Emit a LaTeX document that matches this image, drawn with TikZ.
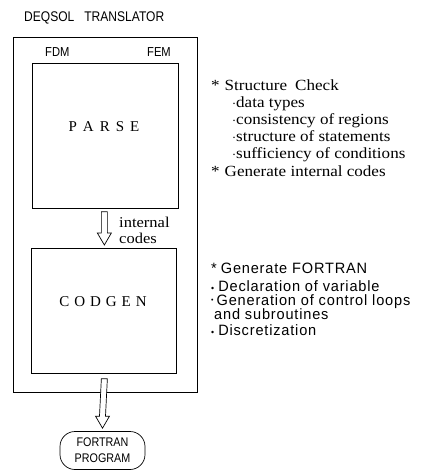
\documentclass[tikz,border=0pt]{standalone}
\usepackage{fontspec}
\setmainfont{Liberation Serif}
\newfontfamily\condsans[FakeStretch=0.86]{Liberation Sans}
\newfontfamily\widesans[FakeStretch=0.97,LetterSpace=5.5]{Liberation Sans}
\newfontfamily\wideserif[FakeStretch=1.1]{Liberation Serif}
\newcommand{\smalldot}{\scalebox{0.6}{\textbullet}}
\usetikzlibrary{calc}
\begin{document}
\begin{tikzpicture}[x=1pt,y=-1pt,
  box/.style={draw, line width=0.7pt, inner sep=0pt, anchor=north west},
  titletext/.style={font=\condsans\fontsize{14}{16}\selectfont, inner sep=0pt, anchor=west},
  sanstext/.style={font=\widesans\fontsize{15}{15}\selectfont, inner sep=0pt, anchor=west, text height=8.5pt, text depth=2.5pt},
  seriftext/.style={font=\wideserif\fontsize{15.5}{15}\selectfont, inner sep=0pt, anchor=west, text height=9pt, text depth=2.5pt},
  labeltext/.style={font=\fontsize{15}{15}\selectfont, inner sep=0pt, anchor=center},
  smallserif/.style={font=\wideserif\fontsize{15}{16}\selectfont, inner sep=0pt, anchor=west, align=left},
  blockarrow/.style={draw, line width=0.7pt, fill=white}]
\useasboundingbox (0,0) rectangle (426,470);
% title
\node[titletext] (title) at (24,18) {DEQSOL\hspace{10pt}TRANSLATOR};
% boxes
\node[box, minimum width=184, minimum height=355] (outer) at (13,37) {};
\node[titletext, font=\condsans\fontsize{13}{15}\selectfont] (fdm) at (45,52) {FDM};
\node[titletext, font=\condsans\fontsize{13}{15}\selectfont] (fem) at (147,52) {FEM};
\node[box, minimum width=146, minimum height=145] (parse) at (32,63) {};
\node[labeltext] (parsel) at (104,127) {P\hspace{6pt}A\hspace{6pt}R\hspace{6pt}S\hspace{6pt}E};
\node[box, minimum width=145, minimum height=125] (codgen) at (31,248) {};
\node[labeltext] (codgenl) at (103,302) {C\hspace{5pt}O\hspace{5pt}D\hspace{5pt}G\hspace{5pt}E\hspace{5pt}N};
% arrow 1
\coordinate (a1s) at ($(parse.south)+(-1,3)$);
\coordinate (a1e) at ($(codgen.north)+(0.5,-3)$);
\draw[blockarrow] ($(a1s)+(-3,0)$) -- ($(a1e)+(-3,-12)$) -- ($(a1e)+(-7,-12)$) -- (a1e)
  -- ($(a1e)+(7,-12)$) -- ($(a1e)+(3,-12)$) -- ($(a1s)+(3,0)$) -- cycle;
\node[smallserif] (ic) at (119,230) {internal\\codes};
% arrow 2
\node[draw, line width=0.7pt, rounded corners=15pt, minimum width=85, minimum height=38, inner sep=0pt,
  align=center, font=\condsans\fontsize{12.5}{16}\selectfont] (fortran) at (102.5,450.5) {FORTRAN\\PROGRAM};
\coordinate (a2s) at ($(codgen.south)+(0.5,5)$);
\coordinate (a2e) at ($(fortran.north)+(0,-3)$);
\draw[blockarrow] ($(a2s)+(-3,0)$) -- ($(a2e)+(-3,-12)$) -- ($(a2e)+(-7,-12)$) -- (a2e)
  -- ($(a2e)+(7,-12)$) -- ($(a2e)+(3,-12)$) -- ($(a2s)+(3,0)$) -- cycle;
% right text, group 1
\node[seriftext] (t1) at (211,87) {*\hspace{5pt}Structure\hspace{8pt}Check};
\node[seriftext] (t2) at (232,104) {$\cdot$data types};
\node[seriftext] (t3) at (232,121) {$\cdot$consistency of regions};
\node[seriftext] (t4) at (232,138) {$\cdot$structure of statements};
\node[seriftext] (t5) at (232,155) {$\cdot$sufficiency of conditions};
\node[seriftext] (t6) at (211,173) {*\hspace{5pt}Generate internal codes};
% right text, group 2
\node[sanstext] (u1) at (211,270) {*\hspace{4pt}Generate FORTRAN};
\node[sanstext] (u2) at (211,288) {\smalldot\hspace{4pt}Declaration of variable};
\node[sanstext] (u3) at (211,302) {\raisebox{3pt}{\scalebox{0.8}{\smalldot}}\hspace{3pt}Generation of control loops};
\node[sanstext] (u4) at (214,316) {and subroutines};
\node[sanstext] (u5) at (211,332) {\smalldot\hspace{4pt}Discretization};
\end{tikzpicture}
\end{document}
